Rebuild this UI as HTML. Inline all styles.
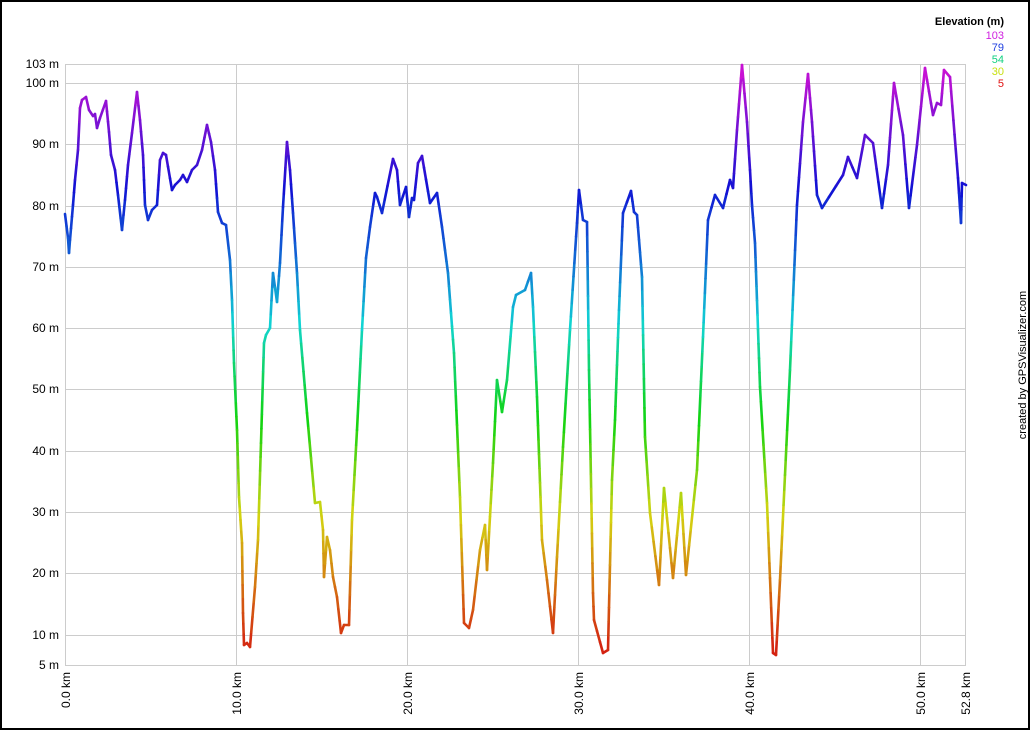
<!DOCTYPE html>
<html><head><meta charset="utf-8"><style>
html,body{margin:0;padding:0;background:#fff}
svg{display:block}
text{font-family:"Liberation Sans",Arial,sans-serif;font-size:12px;fill:#000}
</style></head><body>
<svg id="s" width="1030" height="730" xmlns="http://www.w3.org/2000/svg">
<rect x="1" y="1" width="1028" height="728" fill="#fff" stroke="#000" stroke-width="2"/>
<g stroke="#cccccc" stroke-width="1">
<line x1="65" y1="64.5" x2="966" y2="64.5"/>
<line x1="65" y1="83.5" x2="966" y2="83.5"/>
<line x1="65" y1="144.5" x2="966" y2="144.5"/>
<line x1="65" y1="206.5" x2="966" y2="206.5"/>
<line x1="65" y1="267.5" x2="966" y2="267.5"/>
<line x1="65" y1="328.5" x2="966" y2="328.5"/>
<line x1="65" y1="389.5" x2="966" y2="389.5"/>
<line x1="65" y1="451.5" x2="966" y2="451.5"/>
<line x1="65" y1="512.5" x2="966" y2="512.5"/>
<line x1="65" y1="573.5" x2="966" y2="573.5"/>
<line x1="65" y1="635.5" x2="966" y2="635.5"/>
<line x1="65" y1="665.5" x2="966" y2="665.5"/>
<line x1="65.5" y1="64" x2="65.5" y2="666"/>
<line x1="236.5" y1="64" x2="236.5" y2="666"/>
<line x1="407.5" y1="64" x2="407.5" y2="666"/>
<line x1="578.5" y1="64" x2="578.5" y2="666"/>
<line x1="749.5" y1="64" x2="749.5" y2="666"/>
<line x1="920.5" y1="64" x2="920.5" y2="666"/>
<line x1="965.5" y1="64" x2="965.5" y2="666"/>
</g>
<g text-anchor="end">
<text x="59" y="68">103 m</text>
<text x="59" y="87">100 m</text>
<text x="59" y="148">90 m</text>
<text x="59" y="210">80 m</text>
<text x="59" y="271">70 m</text>
<text x="59" y="332">60 m</text>
<text x="59" y="393">50 m</text>
<text x="59" y="455">40 m</text>
<text x="59" y="516">30 m</text>
<text x="59" y="577">20 m</text>
<text x="59" y="639">10 m</text>
<text x="59" y="669">5 m</text>
</g>
<g text-anchor="end">
<text transform="translate(70,672) rotate(-90)">0.0 km</text>
<text transform="translate(241,672) rotate(-90)">10.0 km</text>
<text transform="translate(412,672) rotate(-90)">20.0 km</text>
<text transform="translate(583,672) rotate(-90)">30.0 km</text>
<text transform="translate(754,672) rotate(-90)">40.0 km</text>
<text transform="translate(925,672) rotate(-90)">50.0 km</text>
<text transform="translate(970,672) rotate(-90)">52.8 km</text>
</g>
<text transform="translate(1026,365) rotate(-90)" text-anchor="middle" style="font-size:11px">created by GPSVisualizer.com</text>
<g text-anchor="end" style="font-size:11px">
<text x="1004" y="25" style="font-weight:bold;font-size:11px">Elevation (m)</text>
<text x="1004" y="39" style="fill:#d020e0;font-size:11px">103</text>
<text x="1004" y="51" style="fill:#2040e0;font-size:11px">79</text>
<text x="1004" y="63" style="fill:#10d080;font-size:11px">54</text>
<text x="1004" y="75" style="fill:#c8e010;font-size:11px">30</text>
<text x="1004" y="87" style="fill:#e01010;font-size:11px">5</text>
</g>
<g id="line" stroke-width="2.6" stroke-linecap="round" fill="none"></g>
</svg>
<script>
var p=[[65,214],[68,238],[69,253],[70,240],[73,205],[75,180],[78,150],[80,108],[82,100],[86,97],[89,110],[93,116],[95,114],[97,128],[100,118],[106,101],[109,132],[111,155],[115,170],[118,195],[122,230],[125,200],[128,165],[132,133],[137,92],[140,120],[143,155],[145,205],[148,220],[152,210],[157,205],[160,160],[163,153],[166,155],[172,190],[175,185],[180,180],[183,175],[187,182],[192,170],[197,165],[202,150],[207,125],[211,142],[215,170],[218,212],[222,223],[226,225],[230,260],[232,300],[234,363],[237,430],[239,497],[242,543],[243,613],[244,645],[247,643],[250,647],[255,587],[258,540],[261,443],[264,343],[266,335],[270,328],[273,273],[277,302],[280,263],[283,207],[287,142],[290,170],[293,213],[297,273],[300,330],[307,413],[315,503],[320,502],[323,530],[324,577],[327,537],[330,550],[333,577],[337,597],[341,633],[344,625],[349,625],[352,520],[357,430],[362,330],[366,258],[370,227],[375,193],[377,197],[382,213],[393,159],[397,170],[400,205],[406,187],[409,217],[412,198],[414,200],[418,163],[422,156],[430,203],[437,193],[442,227],[448,273],[454,353],[460,497],[464,623],[469,628],[473,610],[480,550],[485,525],[487,570],[493,463],[497,380],[502,412],[507,380],[513,307],[516,295],[525,290],[531,273],[533,307],[537,397],[542,540],[547,580],[553,633],[557,557],[563,447],[570,330],[577,223],[579,190],[583,220],[587,222],[589,370],[593,593],[594,620],[603,653],[608,650],[612,480],[615,420],[619,310],[623,213],[631,191],[634,212],[637,215],[642,277],[645,437],[650,513],[659,585],[664,488],[673,578],[681,493],[686,575],[697,470],[703,337],[708,220],[715,195],[723,208],[730,180],[733,188],[737,130],[742,65],[747,122],[750,170],[752,205],[755,243],[760,387],[767,503],[773,653],[776,655],[780,580],[790,370],[797,205],[803,122],[808,74],[812,122],[817,195],[822,208],[843,175],[848,157],[857,178],[865,135],[873,143],[882,208],[888,165],[894,83],[903,135],[909,208],[917,145],[925,68],[933,115],[937,103],[941,105],[944,70],[950,77],[958,178],[961,223],[962,183],[966,185]];
var g=document.getElementById('line'),ns='http://www.w3.org/2000/svg';
var st=[[5,0],[15,22],[30,62],[45,120],[54,150],[62,185],[72,215],[80,232],[90,262],[103,300]];
function col(y){var v=5+(665-y)/6.13;if(v<5)v=5;if(v>103)v=103;var h=0;
 for(var i=0;i<st.length-1;i++){if(v>=st[i][0]&&v<=st[i+1][0]){h=st[i][1]+(st[i+1][1]-st[i][1])*(v-st[i][0])/(st[i+1][0]-st[i][0]);break;}}
 return 'hsl('+h.toFixed(0)+',85%,45%)';}
for(var i=0;i<p.length-1;i++){
 var a=p[i],b=p[i+1],n=Math.max(1,Math.ceil(Math.abs(b[1]-a[1])/15));
 for(var k=0;k<n;k++){
  var x1=a[0]+(b[0]-a[0])*k/n,y1=a[1]+(b[1]-a[1])*k/n,x2=a[0]+(b[0]-a[0])*(k+1)/n,y2=a[1]+(b[1]-a[1])*(k+1)/n;
  var l=document.createElementNS(ns,'line');
  l.setAttribute('x1',x1);l.setAttribute('y1',y1);l.setAttribute('x2',x2);l.setAttribute('y2',y2);
  l.setAttribute('stroke',col((y1+y2)/2));g.appendChild(l);
 }
}
</script>
</body></html>
